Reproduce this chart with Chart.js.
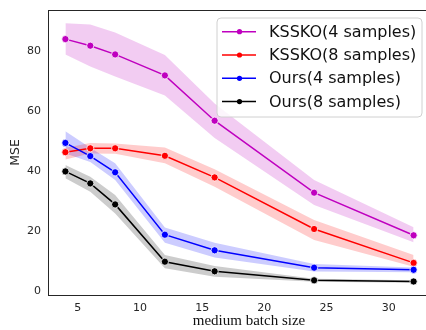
<!DOCTYPE html>
<html>
<head>
<meta charset="utf-8">
<script src="https://cdn.jsdelivr.net/npm/chart.js@4.4.1/dist/chart.umd.min.js"></script>
<style>
html,body{margin:0;padding:0;background:#fff;overflow:hidden;width:426px;height:330px;}
#wrap{position:relative;width:440px;height:330px;}
</style>
</head>
<body>
<div id="wrap"><canvas id="c" width="440" height="330"></canvas></div>
<script>
const batchSizes = [4, 6, 8, 12, 16, 24, 32];
const xTicks = [5, 10, 15, 20, 25, 30];
const yTicks = [0, 20, 40, 60, 80];

const seriesLabels = ['KSSKO(4 samples)', 'KSSKO(8 samples)', 'Ours(4 samples)', 'Ours(8 samples)'];

const kssko4Mean  = [84.0, 81.8, 78.9, 71.9, 56.8, 32.8, 18.6];
const kssko4Upper = [89.3, 88.9, 86.2, 78.7, 62.5, 37.0, 21.3];
const kssko4Lower = [78.9, 74.9, 71.5, 65.2, 51.0, 28.7, 16.3];

const kssko8Mean  = [46.3, 47.6, 47.6, 45.1, 37.9, 20.7, 9.4];
const kssko8Upper = [47.8, 49.4, 49.2, 47.9, 40.6, 23.7, 12.0];
const kssko8Lower = [43.9, 45.9, 45.8, 42.6, 34.8, 17.0, 8.1];

const ours4Mean  = [49.4, 45.0, 39.6, 18.8, 13.6, 7.8, 7.1];
const ours4Upper = [53.3, 47.8, 42.6, 21.2, 16.1, 9.0, 7.9];
const ours4Lower = [45.9, 43.0, 37.0, 16.1, 11.2, 6.5, 6.3];

const ours8Mean  = [39.9, 35.9, 28.9, 9.8, 6.6, 3.6, 3.2];
const ours8Upper = [42.0, 38.1, 32.0, 12.0, 8.4, 4.1, 3.6];
const ours8Lower = [37.6, 33.1, 25.9, 7.6, 4.8, 3.1, 2.8];

const lineColors = ['#bf00bf', '#ff0000', '#0000ff', '#000000'];
const bandColors = ['rgba(191,0,191,0.2)', 'rgba(255,0,0,0.2)', 'rgba(0,0,255,0.2)', 'rgba(0,0,0,0.2)'];

const means = [kssko4Mean, kssko8Mean, ours4Mean, ours8Mean];
const uppers = [kssko4Upper, kssko8Upper, ours4Upper, ours8Upper];
const lowers = [kssko4Lower, kssko8Lower, ours4Lower, ours8Lower];

const pts = arr => arr.map((v, i) => ({x: batchSizes[i], y: v}));

const datasets = [];
for (let s = 0; s < 4; s++) {
  datasets.push({
    label: '_upper' + s, data: pts(uppers[s]), borderWidth: 0, pointRadius: 0,
    backgroundColor: bandColors[s], fill: '+1', order: 10 + s, tension: 0
  });
  datasets.push({
    label: '_lower' + s, data: pts(lowers[s]), borderWidth: 0, pointRadius: 0,
    backgroundColor: bandColors[s], fill: false, order: 10 + s, tension: 0
  });
}
for (let s = 0; s < 4; s++) {
  datasets.push({
    label: seriesLabels[s], data: pts(means[s]), borderColor: lineColors[s],
    backgroundColor: lineColors[s], borderWidth: 1.5, pointRadius: 3.6,
    pointBorderColor: '#ffffff', pointBorderWidth: 0.8, pointBackgroundColor: lineColors[s],
    fill: false, order: 4 - s, tension: 0
  });
}

const decor = {
  id: 'decor',
  afterDraw(chart) {
    const ctx = chart.ctx, a = chart.chartArea;
    ctx.save();
    // frame
    ctx.strokeStyle = '#262626';
    ctx.lineWidth = 1;
    ctx.strokeRect(Math.round(a.left) + 0.5, Math.round(a.top) + 0.5, Math.round(a.right - a.left), Math.round(a.bottom - a.top));
    // axis titles
    ctx.fillStyle = '#262626';
    ctx.font = '12.5px "DejaVu Sans"';
    ctx.textAlign = 'center';
    ctx.textBaseline = 'middle';
    ctx.save();
    ctx.translate(16, (a.top + a.bottom) / 2);
    ctx.rotate(-Math.PI / 2);
    ctx.fillText('MSE', 0, 0);
    ctx.restore();
    ctx.fillStyle = '#111';
    ctx.font = '15px "Liberation Serif"';
    ctx.fillText('medium batch size', 249, 321);
    // legend
    const lx = 217, ly = 18, lw = 205, lh = 99, r = 4;
    ctx.beginPath();
    ctx.moveTo(lx + r, ly);
    ctx.arcTo(lx + lw, ly, lx + lw, ly + lh, r);
    ctx.arcTo(lx + lw, ly + lh, lx, ly + lh, r);
    ctx.arcTo(lx, ly + lh, lx, ly, r);
    ctx.arcTo(lx, ly, lx + lw, ly, r);
    ctx.closePath();
    ctx.fillStyle = 'rgba(255,255,255,0.8)';
    ctx.fill();
    ctx.strokeStyle = '#d0d0d0';
    ctx.lineWidth = 1;
    ctx.stroke();
    ctx.font = '16px "DejaVu Sans"';
    ctx.textAlign = 'left';
    ctx.textBaseline = 'middle';
    for (let s = 0; s < 4; s++) {
      const y = 31.7 + s * 23.3;
      ctx.strokeStyle = lineColors[s];
      ctx.lineWidth = 1.5;
      ctx.beginPath();
      ctx.moveTo(222, y);
      ctx.lineTo(256, y);
      ctx.stroke();
      ctx.fillStyle = lineColors[s];
      ctx.beginPath();
      ctx.arc(239.5, y, 2.6, 0, Math.PI * 2);
      ctx.fill();
      ctx.fillStyle = '#111';
      ctx.fillText(seriesLabels[s], 269, y + 1);
    }
    ctx.restore();
  }
};

new Chart(document.getElementById('c'), {
  type: 'line',
  data: { datasets },
  plugins: [decor],
  options: {
    responsive: false,
    animation: false,
    layout: { padding: { top: 10, right: 9, left: 0, bottom: 0 } },
    plugins: { legend: { display: false }, tooltip: { enabled: false } },
    scales: {
      x: {
        type: 'linear', min: 2.6, max: 33.4,
        afterBuildTicks: sc => { sc.ticks = xTicks.map(v => ({value: v})); },
        afterFit: sc => { sc.height = 35; },
        grid: { display: false, drawTicks: true, tickLength: 4, tickColor: '#262626' },
        border: { display: false },
        ticks: { color: '#262626', font: { family: 'DejaVu Sans', size: 11 }, padding: 3, maxRotation: 0, autoSkip: false }
      },
      y: {
        type: 'linear', min: -1.3, max: 93.7,
        afterBuildTicks: sc => { sc.ticks = yTicks.map(v => ({value: v})); },
        afterFit: sc => { sc.width = 48; },
        grid: { display: false, drawTicks: true, tickLength: 4, tickColor: '#262626' },
        border: { display: false },
        ticks: { color: '#262626', font: { family: 'DejaVu Sans', size: 11 }, padding: 3, autoSkip: false }
      }
    }
  }
});
</script>
</body>
</html>
